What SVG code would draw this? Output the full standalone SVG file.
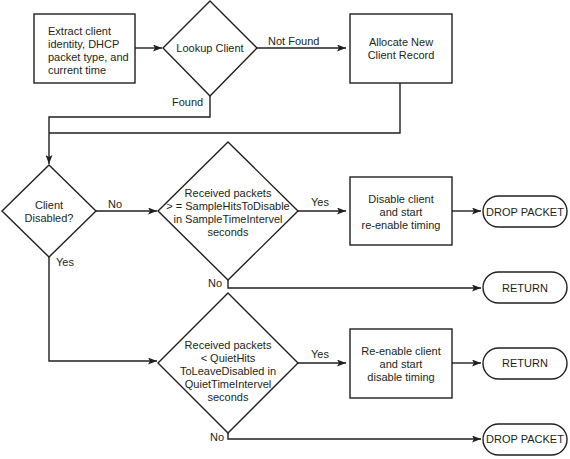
<svg xmlns="http://www.w3.org/2000/svg" width="570" height="459" viewBox="0 0 570 459">
<style>
.s{fill:#fff;stroke:#231f20;stroke-width:1.4}
.c{fill:none;stroke:#231f20;stroke-width:1.4}
text{font-family:"Liberation Sans",Arial,sans-serif;font-size:11px;fill:#231f20}
.m{text-anchor:middle}
</style>
<defs>
<marker id="a" markerWidth="9" markerHeight="7" refX="9" refY="3.5" orient="auto" markerUnits="userSpaceOnUse">
<path d="M0,0 L9,3.5 L0,7 L2,3.5 Z" fill="#231f20"/>
</marker>
</defs>
<g id="connectors">
<path class="c" d="M135,48 H162" marker-end="url(#a)"/>
<path class="c" d="M257,48 H346" marker-end="url(#a)"/>
<path class="c" d="M210,96 V117 H49 V164" marker-end="url(#a)"/>
<path class="c" d="M400,83 V133 H49"/>
<path class="c" d="M96,211 H157" marker-end="url(#a)"/>
<path class="c" d="M298,211 H346" marker-end="url(#a)"/>
<path class="c" d="M452,211 H481" marker-end="url(#a)"/>
<path class="c" d="M228,280 V288 H481" marker-end="url(#a)"/>
<path class="c" d="M49,257 V361 H157" marker-end="url(#a)"/>
<path class="c" d="M298,363 H346" marker-end="url(#a)"/>
<path class="c" d="M452,363 H481" marker-end="url(#a)"/>
<path class="c" d="M228,433 V439 H481" marker-end="url(#a)"/>
<text x="268" y="45">Not Found</text>
<text x="172" y="106">Found</text>
<text x="108" y="208">No</text>
<text x="311" y="206">Yes</text>
<text x="208" y="287">No</text>
<text x="56" y="266">Yes</text>
<text x="311" y="358">Yes</text>
<text x="210" y="441">No</text>
</g>
<g id="extract">
<rect class="s" x="34" y="14" width="101" height="69"/>
<text x="48" y="35">Extract client</text>
<text x="48" y="48">identity, DHCP</text>
<text x="48" y="61">packet type, and</text>
<text x="48" y="74">current time</text>
</g>
<g id="lookup">
<polygon class="s" points="210,1 257,48 210,96 163,48"/>
<text class="m" x="210" y="52">Lookup Client</text>
</g>
<g id="allocate">
<rect class="s" x="350" y="14" width="102" height="69"/>
<text class="m" x="401" y="46">Allocate New</text>
<text class="m" x="401" y="59">Client Record</text>
</g>
<g id="disabled">
<polygon class="s" points="49,165 96,211 49,257 2,211"/>
<text class="m" x="49" y="209">Client</text>
<text class="m" x="49" y="222">Disabled?</text>
</g>
<g id="sample">
<polygon class="s" points="228,142 298,211 228,280 158,211"/>
<text class="m" x="228" y="197">Received packets</text>
<text class="m" x="228" y="210">&gt; = SampleHitsToDisable</text>
<text class="m" x="228" y="223">in SampleTimeIntervel</text>
<text class="m" x="228" y="236">seconds</text>
</g>
<g id="disable">
<rect class="s" x="350" y="177" width="102" height="68"/>
<text class="m" x="401" y="203">Disable client</text>
<text class="m" x="401" y="216">and start</text>
<text class="m" x="401" y="229">re-enable timing</text>
</g>
<g id="drop1">
<rect class="s" x="483" y="196" width="84" height="31" rx="15.5"/>
<text class="m" x="525" y="216">DROP PACKET</text>
</g>
<g id="return1">
<rect class="s" x="483" y="272" width="84" height="31" rx="15.5"/>
<text class="m" x="525" y="292">RETURN</text>
</g>
<g id="quiet">
<polygon class="s" points="228,293 298,363 228,433 158,363"/>
<text class="m" x="228" y="349">Received packets</text>
<text class="m" x="228" y="362">&lt; QuietHits</text>
<text class="m" x="228" y="375">ToLeaveDisabled in</text>
<text class="m" x="228" y="388">QuietTimeIntervel</text>
<text class="m" x="228" y="401">seconds</text>
</g>
<g id="reenable">
<rect class="s" x="350" y="329" width="102" height="69"/>
<text class="m" x="401" y="355">Re-enable client</text>
<text class="m" x="401" y="368">and start</text>
<text class="m" x="401" y="381">disable timing</text>
</g>
<g id="return2">
<rect class="s" x="483" y="348" width="84" height="31" rx="15.5"/>
<text class="m" x="525" y="367">RETURN</text>
</g>
<g id="drop2">
<rect class="s" x="483" y="424" width="84" height="31" rx="15.5"/>
<text class="m" x="525" y="443">DROP PACKET</text>
</g>
</svg>
